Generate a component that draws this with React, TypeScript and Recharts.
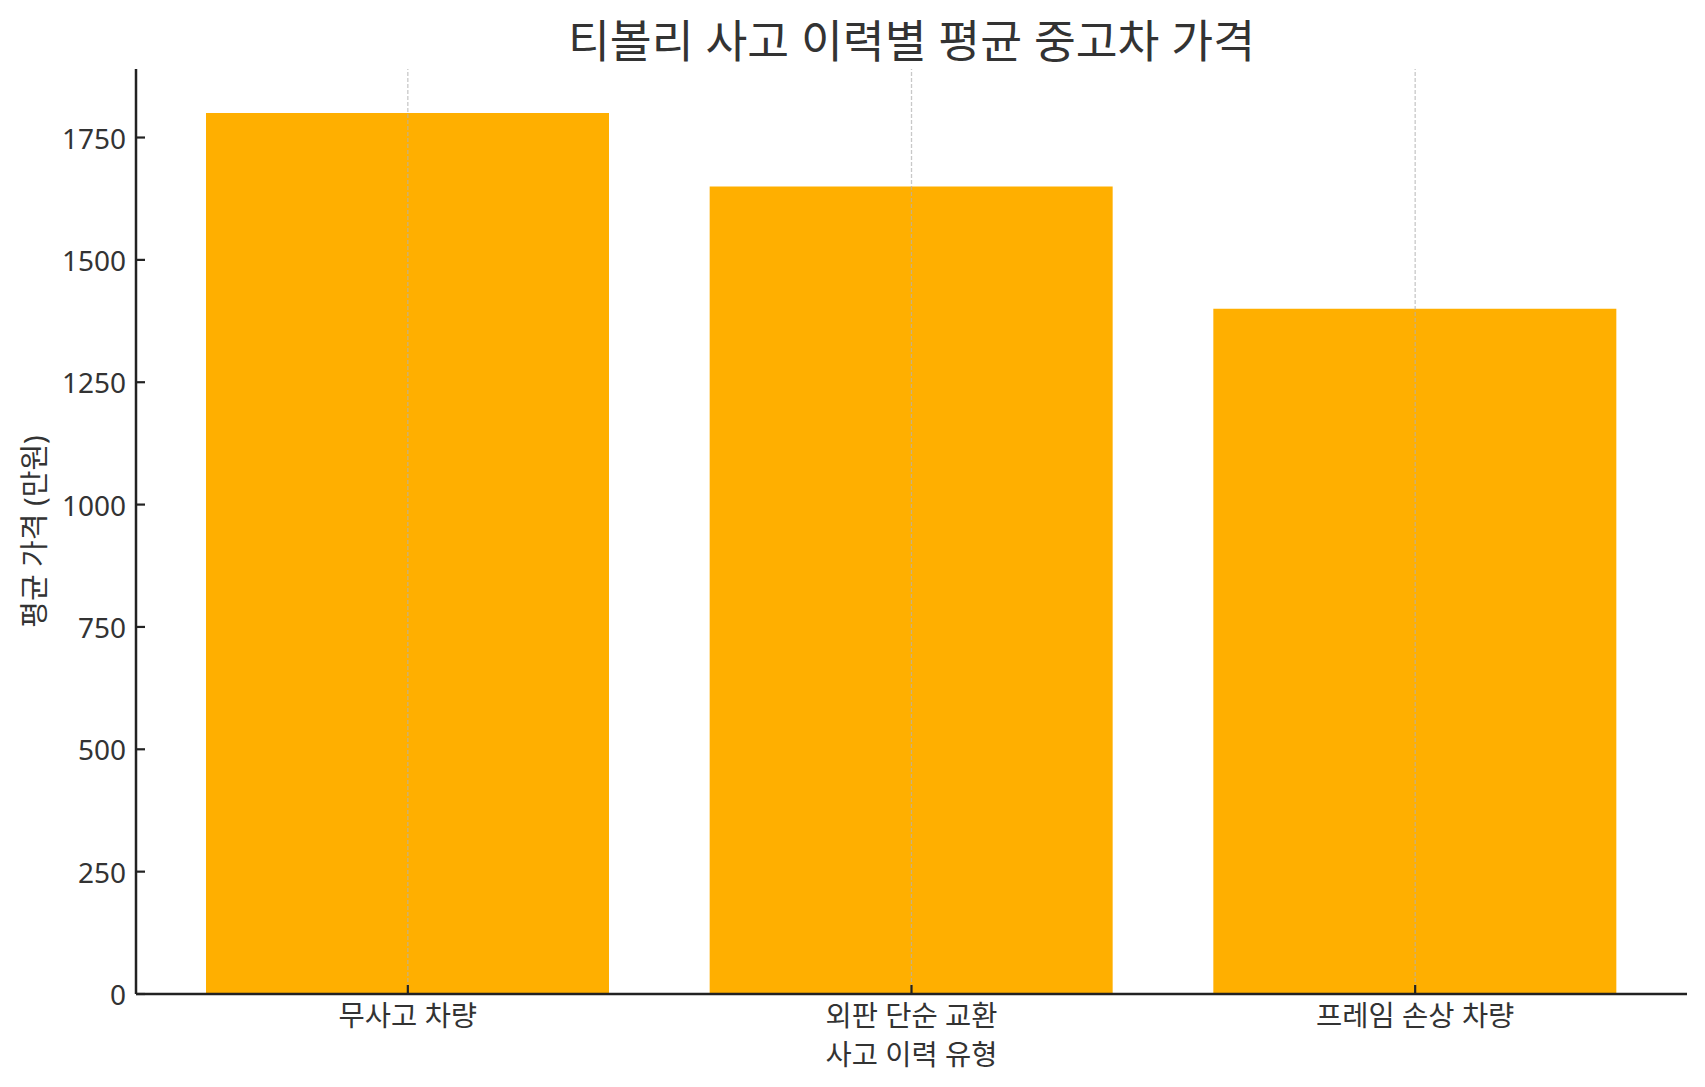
import React from 'react';
import { BarChart, Bar, XAxis, YAxis, ReferenceLine } from 'recharts';

const categories = ['무사고 차량', '외판 단순 교환', '프레임 손상 차량'];
const prices = [1800, 1650, 1400];
const yTicks = [0, 250, 500, 750, 1000, 1250, 1500, 1750];
const yMax = 1890;

const title = '티볼리 사고 이력별 평균 중고차 가격';
const xLabel = '사고 이력 유형';
const yLabel = '평균 가격 (만원)';

const data = categories.map((c, i) => ({ name: c, value: prices[i] }));

const FONT = '"Noto Sans", "Noto Sans CJK KR", sans-serif';
const TEXT = '#333333';
const AXIS = '#222222';

const XTick = (props: any) => {
  const { x, y, payload } = props;
  return (
    <g>
      <line x1={x} x2={x} y1={y} y2={y - 9} stroke={AXIS} strokeWidth={2.2} />
      <text x={x} y={y + 21} textAnchor="middle" dominantBaseline="central" fill={TEXT} fontSize={28.5} fontFamily={FONT}>
        {payload.value}
      </text>
    </g>
  );
};

const YTick = (props: any) => {
  const { x, y, payload } = props;
  return (
    <g>
      <line x1={x} x2={x + 9} y1={y} y2={y} stroke={AXIS} strokeWidth={2.2} />
      <text x={x - 10} y={y} textAnchor="end" dominantBaseline="central" fill={TEXT} fontSize={28} fontFamily={FONT}>
        {payload.value}
      </text>
    </g>
  );
};

export default function App() {
  return (
    <div style={{ position: 'absolute', left: 0, top: 0, width: 1705, height: 1087, background: '#fff' }}>
      <div
        style={{
          position: 'absolute',
          left: 136,
          width: 1551,
          top: 40.5,
          transform: 'translateY(-50%)',
          textAlign: 'center',
          fontFamily: FONT,
          fontSize: 45.5,
          color: TEXT,
          lineHeight: 1,
          whiteSpace: 'nowrap',
        }}
      >
        {title}
      </div>
      <BarChart
        width={1705}
        height={1087}
        data={data}
        margin={{ top: 69, right: 18, bottom: 0, left: 0 }}
      >
        <XAxis
          dataKey="name"
          height={93}
          padding={{ left: 20, right: 20 }}
          tickLine={false}
          tickSize={0}
          tickMargin={0}
          tick={<XTick />}
          axisLine={{ stroke: AXIS, strokeWidth: 2.5 }}
          interval={0}
          label={{
            content: (p: any) => {
              const vb = p.viewBox;
              return (
                <text x={vb.x + vb.width / 2} y={1054} textAnchor="middle" dominantBaseline="central" fill={TEXT} fontSize={28.5} fontFamily={FONT}>
                  {xLabel}
                </text>
              );
            },
          }}
        />
        <YAxis
          width={136}
          domain={[0, yMax]}
          ticks={yTicks}
          allowDataOverflow
          axisLine={{ stroke: AXIS, strokeWidth: 2.5 }}
          tickLine={false}
          tickSize={0}
          tickMargin={0}
          tick={<YTick />}
          interval={0}
          label={{
            content: (p: any) => {
              const vb = p.viewBox;
              const cy = vb.y + vb.height / 2;
              return (
                <text x={33} y={cy} textAnchor="middle" dominantBaseline="central" fill={TEXT} fontSize={29} fontFamily={FONT} transform={`rotate(-90, 33, ${cy})`}>
                  {yLabel}
                </text>
              );
            },
          }}
        />
        <Bar dataKey="value" fill="#FFAF00" barSize={403} isAnimationActive={false} />
        {categories.map((c) => (
          <ReferenceLine key={c} x={c} stroke="#b0b0b0" strokeOpacity={0.7} strokeWidth={1.3} strokeDasharray="4 2" />
        ))}
      </BarChart>
    </div>
  );
}
